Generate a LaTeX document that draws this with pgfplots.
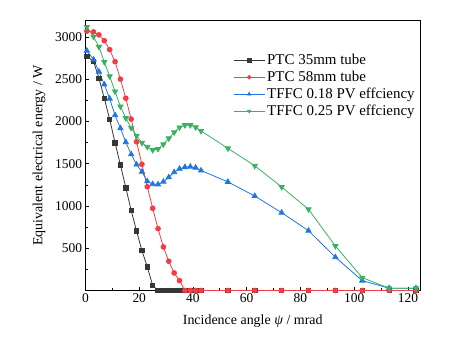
\documentclass[border=0pt]{standalone}
\usepackage{pgfplots}
\pgfplotsset{compat=1.18}
\usepackage{pgfplotstable}
\usepackage{fontspec}
\setmainfont{Liberation Serif}
\definecolor{cblk}{RGB}{55,55,55}
\definecolor{cred}{RGB}{240,62,68}
\definecolor{cblu}{RGB}{32,118,224}
\definecolor{cgrn}{RGB}{58,176,98}
\pgfplotstableread{
x y
0.5 2773
3 2710
5 2513
7 2273
9 2025
11 1748
13 1485
15 1216
17 949
19 704
21 472
23 279
25 60
27 0
29 0
31 0
33 0
35 0
37 0
39 0
41 0
43 0
53 0
63 0
73 0
83 0
93 0
103 0
113 0
123 0
}\tblA
\pgfplotstableread{
x y
0.5 3068
3 3060
5 3025
7 2956
9 2850
11 2708
13 2501
15 2275
17 2028
19 1760
21 1493
23 1228
25 973
27 732
29 515
31 346
33 208
35 117
37 0
39 0
41 0
43 0
53 0
63 0
73 0
83 0
93 0
103 0
113 0
123 0
}\tblB
\pgfplotstableread{
x y
0.5 2838
3 2732
5 2590
7 2438
9 2270
11 2074
13 1920
15 1755
17 1612
19 1490
21 1405
23 1292
25 1258
27 1256
29 1287
31 1339
33 1400
35 1440
37 1460
39 1465
41 1453
43 1420
53 1285
63 1118
73 921
83 708
93 394
103 117
113 27
123 27
}\tblC
\pgfplotstableread{
x y
0.5 3119
3 3003
5 2883
7 2704
9 2535
11 2355
13 2178
15 2040
17 1925
19 1832
21 1748
23 1700
25 1662
27 1675
29 1730
31 1800
33 1871
35 1930
37 1957
39 1957
41 1932
43 1888
53 1682
63 1476
73 1225
83 961
93 527
103 152
113 27
123 27
}\tblD
\begin{document}
\begin{tikzpicture}
\useasboundingbox (0,0) rectangle (450bp,345bp);
\begin{axis}[
  at={(85.5bp,54.5bp)}, anchor=south west,
  scale only axis, width=334.5bp, height=270bp,
  xmin=0, xmax=124.5, ymin=0, ymax=3195,
  clip=false,
  axis line style={line width=0.8pt},
  tick pos=left, tick align=inside,
  xtick={0,20,...,120}, minor x tick num=1,
  ytick={0,500,...,3000}, yticklabels={{},500,1000,1500,2000,2500,3000},
  minor y tick num=1,
  major tick length=4pt, minor tick length=2.3pt,
  every tick/.style={black, line width=0.7pt},
  /pgf/number format/assume math mode=true,
  /pgf/number format/1000 sep={},
  tick label style={font=\fontsize{13.5}{15}\selectfont},
  label style={font=\fontsize{14}{16}\selectfont},
  xlabel={Incidence angle \textit{ψ} / mrad},
  ylabel={Equivalent electrical energy / W},
  xlabel style={at={(axis description cs:0.5,-0.115)}, anchor=center},
  ylabel style={at={(axis description cs:-0.139,0.5)}, anchor=center},
  legend style={draw=none, fill=none, at={(axis description cs:0.438,0.886)}, anchor=north west,
    font=\fontsize{15}{17}\selectfont, row sep=1pt, inner sep=1pt},
  legend cell align=left,
  legend image code/.code={\draw[mark repeat=2,mark phase=2,mark size=1.8pt] plot coordinates {(0cm,0cm) (0.55cm,0cm) (1.1cm,0cm)};},
  every axis plot/.append style={line width=0.8pt},
]
\addplot[cblk, mark=square*, mark size=2.2pt] table {\tblA};
\addlegendentry{PTC 35mm tube}
\addplot[cred, mark=*, mark size=2.4pt] table {\tblB};
\addlegendentry{PTC 58mm tube}
\addplot[cblu, mark=triangle*, mark size=3pt] table {\tblC};
\addlegendentry{TFFC 0.18 PV effciency}
\addplot[cgrn, mark=triangle*, mark options={rotate=180}, mark size=3pt] table {\tblD};
\addlegendentry{TFFC 0.25 PV effciency}
\end{axis}
\end{tikzpicture}
\end{document}
